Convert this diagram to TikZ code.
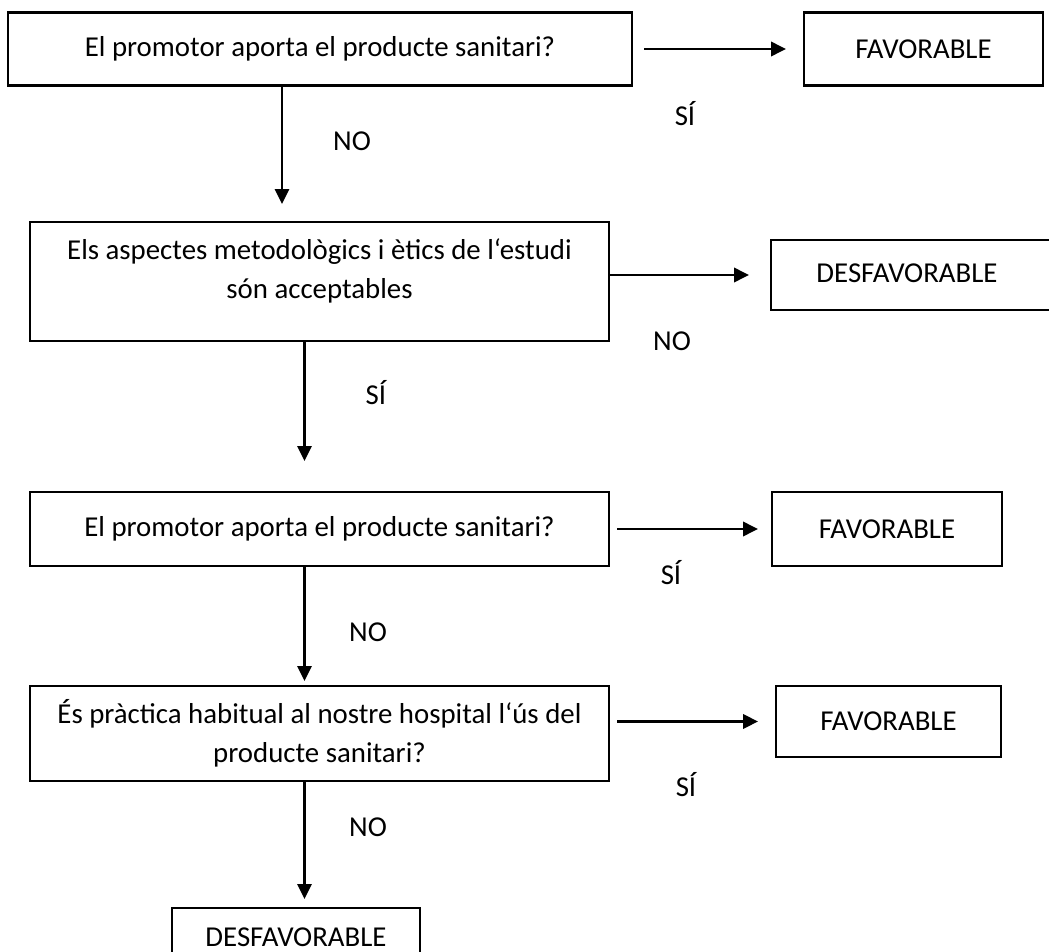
\documentclass[tikz,border=0pt]{standalone}
\usepackage{fontspec}
\setmainfont{Carlito}
\usetikzlibrary{calc}
\usetikzlibrary{arrows.meta}

\tikzset{
    box/.style={draw,line width=0.85pt,inner sep=0pt,align=center},
    harr/.style={-{Triangle[length=6.3pt,width=6pt]},line width=1.25pt},
    varr/.style={-{Triangle[length=6.3pt,width=6pt]},line width=0.85pt},
    lbl/.style={inner sep=0pt,align=center}
}

\begin{document}
\begin{tikzpicture}[x=0.4233pt,y=-0.4233pt,font=\fontsize{12.2pt}{16.4pt}\selectfont]
                \useasboundingbox (0,0) rectangle (1049,952);

                \node[box,minimum width=264.1pt,minimum height=30.9pt] (Q1) at (320,49) {El promotor aporta el producte sanitari?};
                \node[box,minimum width=101.2pt,minimum height=30.9pt] (F1) at (923.5,49) {FAVORABLE};

                \node[box,minimum width=245.1pt,minimum height=50.4pt] (Q2) at (319.5,281.5) {};
                \node[lbl] (T2) at (319.5,271) {Els aspectes metodològics i ètics de l‘estudi\\són acceptables};
                \node[box,minimum width=127pt,minimum height=29.6pt] (D2) at (921,275) {};
                \node[lbl] (T2D) at (907,273) {DESFAVORABLE};

                \node[box,minimum width=245.1pt,minimum height=31.3pt] (Q3) at (319.5,529) {El promotor aporta el producte sanitari?};
                \node[box,minimum width=97.4pt,minimum height=31.3pt] (F3) at (887,529) {FAVORABLE};

                \node[box,minimum width=245.1pt,minimum height=40.2pt] (Q4) at (319.5,733.5) {És pràctica habitual al nostre hospital l‘ús del\\producte sanitari?};
                \node[box,minimum width=95.2pt,minimum height=30.1pt] (F4) at (888.5,721.5) {FAVORABLE};

                \node[box,minimum width=105pt,minimum height=24.6pt] (D4) at (296,937) {DESFAVORABLE};

                \draw[harr,shorten >=7.2pt] ([xshift=4.7pt]Q1.east) -- (F1.west);
                \draw[harr,shorten >=8.9pt] (Q2.east |- D2.west) -- (D2.west);
                \draw[harr,shorten >=5.5pt] ([xshift=3pt]Q3.east) -- (F3.west);
                \draw[harr,shorten >=7.2pt] ([xshift=3pt]Q4.east |- F4.west) -- (F4.west);

                \draw[varr,shorten >=7.2pt] ($(Q1.south)+(-38,0)$) -- ($(Q2.north)+(-37.5,0)$);
                \draw[varr,shorten >=12.7pt] ($(Q2.south)+(-15,0)$) -- ($(Q3.north)+(-15,0)$);
                \draw[varr,shorten >=1.7pt] ($(Q3.south)+(-15,0)$) -- ($(Q4.north)+(-15,0)$);
                \draw[varr,shorten >=3.4pt] ($(Q4.south)+(-15,0)$) -- ($(Q4.south |- D4.north)+(-15,0)$);

                \node[lbl] (S1) at (685,114) {SÍ};
                \node[lbl] (N1) at (352,141) {NO};
                \node[lbl] (N2) at (672,341) {NO};
                \node[lbl] (S2) at (376,393) {SÍ};
                \node[lbl] (S3) at (671,573) {SÍ};
                \node[lbl] (N3) at (368,632) {NO};
                \node[lbl] (S4) at (686,785) {SÍ};
                \node[lbl] (N4) at (368,827) {NO};
\end{tikzpicture}
\end{document}
